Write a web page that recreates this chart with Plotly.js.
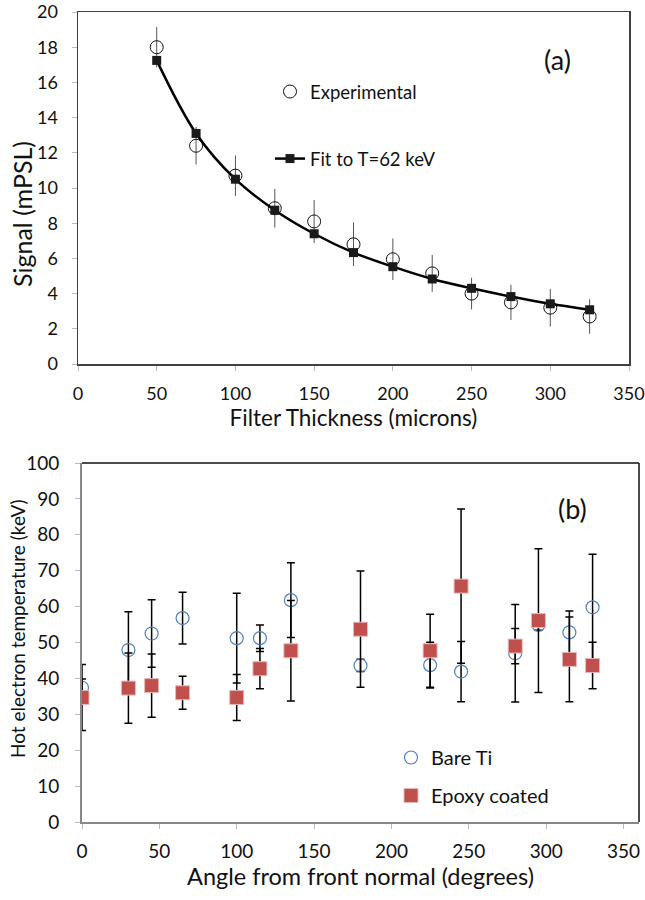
<!DOCTYPE html>
<html>
<head>
<meta charset="utf-8">
<script src="https://cdn.plot.ly/plotly-3.0.1.min.js"></script>
<style>
html,body{margin:0;padding:0;background:#fff;}
#chart{width:645px;height:900px;}
</style>
</head>
<body>
<div id="chart"></div>
<script>
// ---- Panel (a) data ----
const thickness = [50, 75, 100, 125, 150, 175, 200, 225, 250, 275, 300, 325];
const expSignal = [18.0, 12.4, 10.7, 8.85, 8.1, 6.8, 5.95, 5.15, 4.0, 3.5, 3.2, 2.7];
const expErr    = [1.15, 1.07, 1.15, 1.1, 1.22, 1.24, 1.18, 1.05, 0.9, 1.0, 1.07, 0.98];
const fitSignal = [17.25, 13.1, 10.5, 8.74, 7.4, 6.33, 5.53, 4.83, 4.3, 3.83, 3.42, 3.08];

// ---- Panel (b) data ----
const angle     = [0, 30, 45, 65, 100, 115, 135, 180, 225, 245, 280, 295, 315, 330];
const bareTi    = [37.4, 47.9, 52.5, 56.8, 51.2, 51.2, 61.8, 43.6, 43.7, 41.9, 47.0, 54.9, 52.8, 59.8];
const bareTiErr = [2.4, 10.7, 9.4, 7.2, 12.5, 3.7, 10.4, 1.7, 6.4, 8.4, 13.6, 1.5, 6.0, 14.8];
const epoxy     = [34.7, 37.3, 38.0, 36.0, 34.7, 42.7, 47.7, 53.7, 47.7, 65.7, 49.0, 56.1, 45.3, 43.6];
const epoxyErr  = [9.2, 9.8, 8.8, 4.6, 6.4, 5.6, 14.0, 16.2, 10.2, 21.5, 4.9, 20.0, 11.8, 6.5];

const xTicksA = [0, 50, 100, 150, 200, 250, 300, 350];
const yTicksA = [0, 2, 4, 6, 8, 10, 12, 14, 16, 18, 20];
const xTicksB = [0, 50, 100, 150, 200, 250, 300, 350];
const yTicksB = [0, 10, 20, 30, 40, 50, 60, 70, 80, 90, 100];

const FONT = 'Lato, "Open Sans", sans-serif';

const traces = [
  {
    x: thickness, y: expSignal, type: 'scatter', mode: 'markers',
    name: 'Experimental', xaxis: 'x', yaxis: 'y', legend: 'legend', legendgroup: 'a1',
    marker: {symbol: 'circle-open', size: 13, color: '#111', line: {width: 1, color: '#111'}},
    error_y: {type: 'data', array: expErr, visible: true, color: '#555', thickness: 1, width: 0}
  },
  {
    x: thickness, y: fitSignal, type: 'scatter', mode: 'lines+markers',
    name: 'Fit to T=62 keV', xaxis: 'x', yaxis: 'y', legend: 'legend', legendgroup: 'a2',
    line: {color: '#000', width: 2.5, shape: 'spline', smoothing: 1},
    marker: {symbol: 'square', size: 9, color: '#1a1a1a'}
  },
  {
    x: angle, y: bareTi, type: 'scatter', mode: 'markers',
    name: 'Bare Ti', xaxis: 'x2', yaxis: 'y2', legend: 'legend2', legendgroup: 'b1',
    marker: {symbol: 'circle-open', size: 13, color: '#4f81bd', line: {width: 1.2, color: '#4f81bd'}},
    error_y: {type: 'data', array: bareTiErr, visible: true, color: '#000', thickness: 1.5, width: 4}
  },
  {
    x: angle, y: epoxy, type: 'scatter', mode: 'markers',
    name: 'Epoxy coated', xaxis: 'x2', yaxis: 'y2', legend: 'legend2', legendgroup: 'b2',
    marker: {symbol: 'square', size: 14, color: '#c0504d', line: {width: 1, color: '#e6b9b8'}},
    error_y: {type: 'data', array: epoxyErr, visible: true, color: '#000', thickness: 1.5, width: 4}
  }
];

const layout = {
  width: 645, height: 900,
  margin: {l: 0, r: 0, t: 0, b: 0},
  paper_bgcolor: '#fff', plot_bgcolor: '#fff',
  font: {family: FONT, color: '#111', size: 17},
  showlegend: true,
  xaxis: {
    domain: [78/645, 629/645], anchor: 'y',
    range: [0, 350], tickvals: xTicksA, ticktext: xTicksA.map(String),
    showgrid: false, zeroline: false,
    showline: true, mirror: true, linecolor: '#404040', linewidth: 1.5,
    ticks: 'outside', ticklen: 5, tickcolor: '#bbb', tickwidth: 1,
    tickfont: {size: 18, family: FONT}, ticklabelstandoff: 8, ticklabeloverflow: 'allow',
    title: {text: 'Filter Thickness (microns)', font: {size: 22.5, family: FONT}, standoff: 4}
  },
  yaxis: {
    domain: [1 - 364/900, 1 - 12/900], anchor: 'x',
    range: [0, 20], tickvals: yTicksA, ticktext: yTicksA.map(String),
    showgrid: false, zeroline: false,
    showline: true, mirror: true, linecolor: '#404040', linewidth: 1.5,
    ticks: 'outside', ticklen: 5, tickcolor: '#bbb', tickwidth: 1,
    tickfont: {size: 18, family: FONT}, ticklabelstandoff: 10, ticklabeloverflow: 'allow'
  },
  xaxis2: {
    domain: [82/645, 639/645], anchor: 'y2',
    range: [0, 360], tickvals: xTicksB, ticktext: xTicksB.map(String),
    showgrid: false, zeroline: false,
    showline: true, mirror: false, linecolor: '#888', linewidth: 2,
    ticks: 'outside', ticklen: 5, tickcolor: '#bbb', tickwidth: 1,
    tickfont: {size: 19, family: FONT}, ticklabelstandoff: 6, ticklabeloverflow: 'allow',
    title: {text: 'Angle from front normal (degrees)', font: {size: 23.5, family: FONT}, standoff: 8}
  },
  yaxis2: {
    domain: [1 - 822/900, 1 - 463/900], anchor: 'x2',
    range: [0, 100], tickvals: yTicksB, ticktext: yTicksB.map(String),
    showgrid: false, zeroline: false,
    showline: true, mirror: false, linecolor: '#888', linewidth: 2,
    ticks: 'outside', ticklen: 5, tickcolor: '#bbb', tickwidth: 1,
    tickfont: {size: 19, family: FONT}, ticklabelstandoff: 12, ticklabeloverflow: 'allow'
  },
  shapes: [
    {type: 'line', xref: 'x2 domain', yref: 'y2 domain', x0: 0, x1: 1, y0: 1, y1: 1, line: {color: '#111', width: 1.5}},
    {type: 'line', xref: 'x2 domain', yref: 'y2 domain', x0: 1, x1: 1, y0: 0, y1: 1, line: {color: '#111', width: 1.5}}
  ],
  legend: {
    x: 270/645, y: 1 - 73/900, xanchor: 'left', yanchor: 'top',
    bgcolor: 'rgba(0,0,0,0)', borderwidth: 0,
    font: {size: 18.5, family: FONT, color: '#111'},
    tracegroupgap: 40, itemwidth: 30, traceorder: 'grouped'
  },
  legend2: {
    x: 391/645, y: 1 - 738/900, xanchor: 'left', yanchor: 'top',
    bgcolor: 'rgba(0,0,0,0)', borderwidth: 0,
    font: {size: 20, family: FONT, color: '#111'},
    tracegroupgap: 9, itemwidth: 30, traceorder: 'grouped'
  },
  annotations: [
    {text: 'Signal (mPSL)', xref: 'paper', yref: 'paper', x: 22/645, y: 1 - 214/900, textangle: -90,
     showarrow: false, font: {size: 25, family: FONT, color: '#111'}, xanchor: 'center', yanchor: 'middle'},
    {text: 'Hot electron temperature (keV)', xref: 'paper', yref: 'paper', x: 17/645, y: 1 - 629/900, textangle: -90,
     showarrow: false, font: {size: 19, family: FONT, color: '#111'}, xanchor: 'center', yanchor: 'middle'},
    {text: '(a)', xref: 'paper', yref: 'paper', x: 557/645, y: 1 - 59/900, showarrow: false,
     font: {size: 27, family: FONT, color: '#111'}, xanchor: 'center', yanchor: 'middle'},
    {text: '(b)', xref: 'paper', yref: 'paper', x: 572/645, y: 1 - 508/900, showarrow: false,
     font: {size: 27, family: FONT, color: '#111'}, xanchor: 'center', yanchor: 'middle'}
  ]
};

Plotly.newPlot('chart', traces, layout, {staticPlot: true, displayModeBar: false});
</script>
</body>
</html>
